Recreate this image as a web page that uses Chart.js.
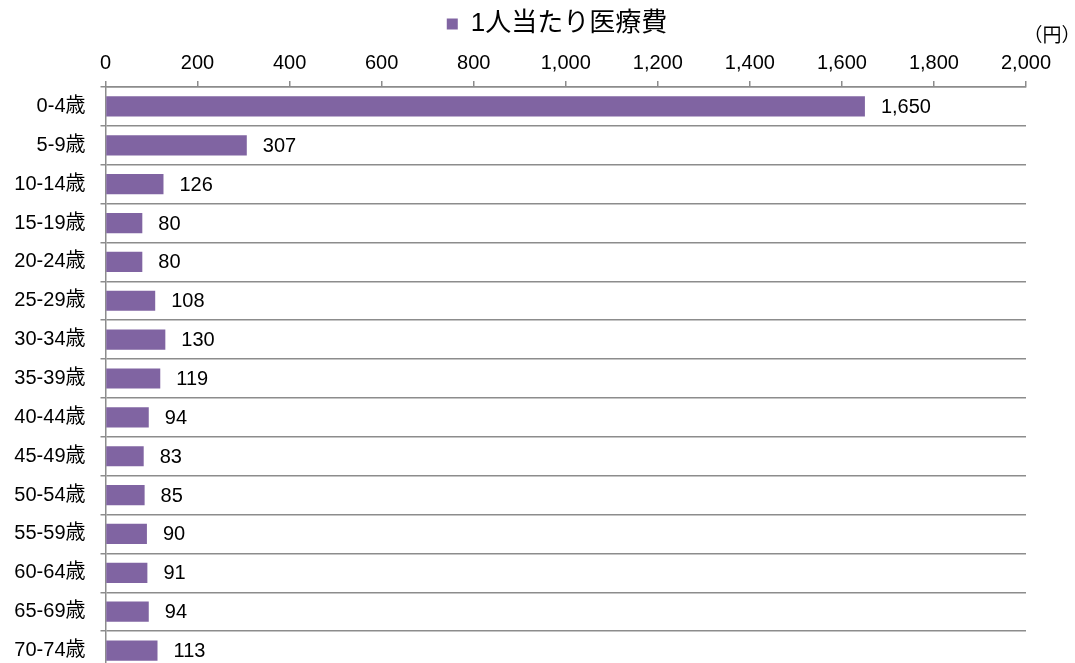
<!DOCTYPE html>
<html>
<head>
<meta charset="utf-8">
<script src="https://cdn.jsdelivr.net/npm/chart.js@4/dist/chart.umd.min.js"></script>
<style>
  html, body { margin: 0; padding: 0; background: #fff; overflow: hidden; }
  #wrap { width: 1075px; height: 670px; }
</style>
</head>
<body>
<div id="wrap"><canvas id="c" width="1075" height="670"></canvas></div>
<script>
const categories = ['0-4歳','5-9歳','10-14歳','15-19歳','20-24歳','25-29歳','30-34歳','35-39歳','40-44歳','45-49歳','50-54歳','55-59歳','60-64歳','65-69歳','70-74歳'];
const costPerPerson = [1650, 307, 126, 80, 80, 108, 130, 119, 94, 83, 85, 90, 91, 94, 113];
const seriesName = '1人当たり医療費';
const unitLabel = '（円）';
const xMin = 0, xMax = 2000, xStep = 200;

const FONT = '"Liberation Sans", Arial, "Noto Sans CJK JP", sans-serif';
Chart.defaults.font.family = FONT;
Chart.defaults.color = '#000';

const fmt = v => v.toLocaleString('en-US');

const valueLabels = {
  id: 'valueLabels',
  afterDatasetsDraw(chart) {
    const ctx = chart.ctx;
    const meta = chart.getDatasetMeta(0);
    ctx.save();
    ctx.font = '20px ' + FONT;
    ctx.fillStyle = '#000';
    ctx.textAlign = 'left';
    ctx.textBaseline = 'middle';
    meta.data.forEach((bar, i) => {
      ctx.fillText(fmt(costPerPerson[i]), bar.x + 16, bar.y + 1);
    });
    ctx.restore();
  }
};

const legendShift = {
  id: 'legendShift',
  afterLayout(chart) {
    const lg = chart.legend;
    if (lg) { lg.left += 44; lg.right += 44; }
  }
};

const unitText = {
  id: 'unitText',
  afterDraw(chart) {
    const ctx = chart.ctx;
    ctx.save();
    ctx.font = '19px "Noto Sans CJK JP", sans-serif';
    ctx.fillStyle = '#000';
    ctx.textAlign = 'center';
    ctx.textBaseline = 'middle';
    ctx.fillText(unitLabel, 1052, 35);
    ctx.restore();
  }
};

new Chart(document.getElementById('c'), {
  type: 'bar',
  data: {
    labels: categories,
    datasets: [{
      label: seriesName,
      data: costPerPerson,
      backgroundColor: '#8064A2',
      borderWidth: 0,
      barPercentage: 0.52,
      categoryPercentage: 1.0
    }]
  },
  options: {
    indexAxis: 'y',
    responsive: false,
    animation: false,
    devicePixelRatio: 1,
    layout: { padding: { left: 0, right: 49, top: 0, bottom: 0 } },
    plugins: {
      legend: {
        display: true,
        position: 'top',
        labels: {
          boxWidth: 11,
          boxHeight: 11,
          padding: 11,
          font: { size: 26, family: FONT },
          color: '#000'
        }
      },
      tooltip: { enabled: false }
    },
    scales: {
      x: {
        position: 'top',
        min: xMin,
        max: xMax,
        afterFit(scale) { scale.height = 40; scale.paddingTop = 0; scale.paddingBottom = 0; },
        ticks: {
          stepSize: xStep,
          padding: 6,
          font: { size: 20 },
          color: '#000',
          maxRotation: 0,
          callback: v => fmt(v)
        },
        grid: {
          drawOnChartArea: false,
          drawTicks: true,
          tickLength: 6,
          color: '#8c8c8c',
          lineWidth: 1.5
        },
        border: { display: true, color: '#8c8c8c', width: 1.5 }
      },
      y: {
        afterFit(scale) { scale.width = 105.5; scale.paddingTop = 0; scale.paddingBottom = 0; },
        ticks: {
          padding: 15,
          font: { size: 20 },
          color: '#000'
        },
        grid: {
          offset: true,
          drawOnChartArea: true,
          drawTicks: true,
          tickLength: 5,
          color: '#8c8c8c',
          lineWidth: 1.5
        },
        border: { display: true, color: '#8c8c8c', width: 1.5 }
      }
    }
  },
  plugins: [valueLabels, unitText, legendShift]
});
</script>
</body>
</html>
